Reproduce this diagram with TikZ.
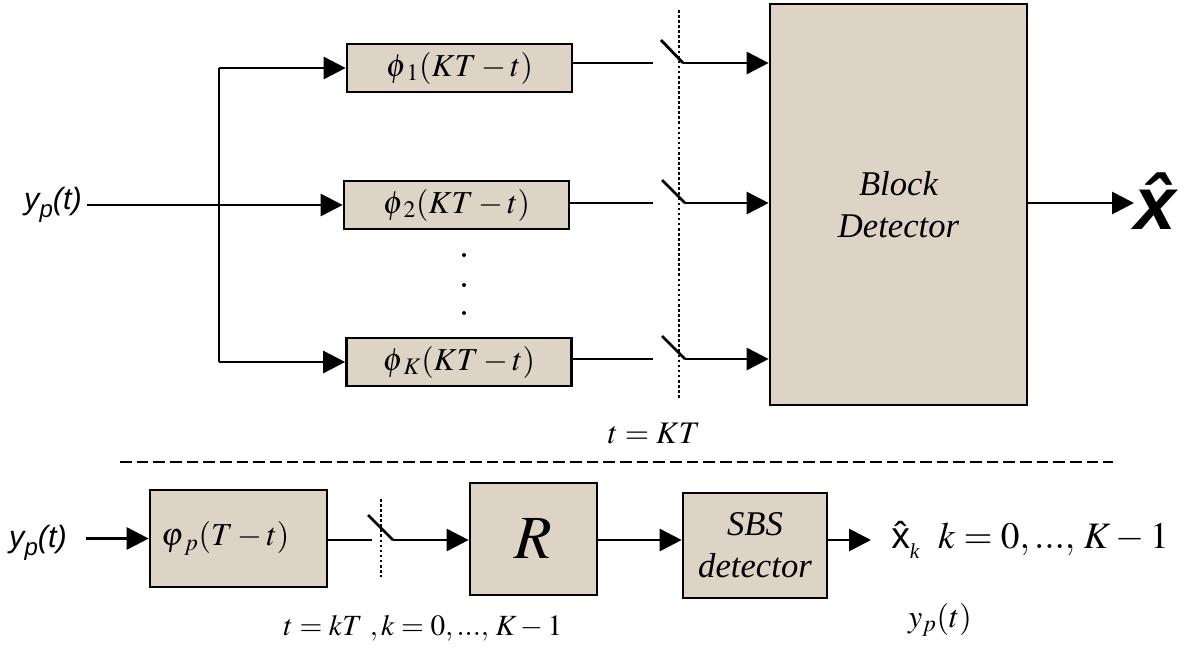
\documentclass[tikz,border=0pt]{standalone}
\usepackage{mathptmx}
\usepackage[no-math]{fontspec}
\setmainfont{Liberation Serif}
\newfontfamily\arialf{Liberation Sans}
\usetikzlibrary{arrows.meta}

\definecolor{paper}{RGB}{221,212,198}

\tikzset{
  box/.style={draw=black, line width=2pt, fill=paper, inner sep=0pt},
  wire/.style={line width=2.1pt},
  arr/.style={wire, -{Triangle[length=16.5pt,width=16.5pt]}},
  clockline/.style={line width=1.6pt, dash pattern=on 2pt off 1.8pt},
  sepline/.style={line width=2pt, dash pattern=on 8.8pt off 3.7pt},
  lbl/.style={inner sep=0pt},
}

\begin{document}
\begin{tikzpicture}[x=0.75pt,y=-0.75pt]
\useasboundingbox (0,0) rectangle (1191,653);

% ---------- block (joint) receiver ----------
\node[lbl, font=\arialf\itshape\fontsize{23}{26}\selectfont] (yin) at (53,205)
  {y\raisebox{-0.45ex}{\fontsize{18}{18}\selectfont p}(t)};

\node[box, minimum width=168.75pt, minimum height=36pt, font=\fontsize{24}{28}\selectfont] (b1) at (459.5,68) {$\phi_{\kern3pt 1}(KT-t)$};
\node[box, minimum width=168.75pt, minimum height=36pt, font=\fontsize{24}{28}\selectfont] (b2) at (456.5,205) {$\phi_{\kern3pt 2}(KT-t)$};
\node[box, minimum width=168.75pt, minimum height=36pt, font=\fontsize{24}{28}\selectfont] (bK) at (459,362) {$\phi_{\kern3pt K}(KT-t)$};

\fill (464,255) circle (1.5pt) (464,285) circle (1.5pt) (464,313) circle (1.5pt);

\node[box, minimum width=192.75pt, minimum height=300.75pt, align=center,
      font=\itshape\fontsize{26}{31.5}\selectfont] (blk) at (898.5,204.5) {Block\\Detector};

% fan-out of the received signal
\coordinate (bt) at (219,68);
\coordinate (bb) at (219,362);
\draw[arr] ([xshift=4pt]yin.east) -- (b2.west);
\draw[wire] (bt) -- (bb);
\draw[arr] (bt) -- (b1.west);
\draw[arr] (bb) -- (bK.west);

% samplers at t = KT
\coordinate (s1a) at (653,63);  \coordinate (s1b) at (661,40);  \coordinate (s1c) at (683,63);
\coordinate (s2a) at (653,203); \coordinate (s2b) at (662,180); \coordinate (s2c) at (685,203);
\coordinate (s3a) at (653,359); \coordinate (s3b) at (662,336); \coordinate (s3c) at (685,359);

\draw[wire] (b1.east |- s1a) -- (s1a);
\draw[wire] (b2.east |- s2a) -- (s2a);
\draw[wire] (bK.east |- s3a) -- (s3a);
\draw[wire] (s1b) -- (s1c);
\draw[wire] (s2b) -- (s2c);
\draw[wire] (s3b) -- (s3c);
\draw[arr] (s1c) -- (blk.west |- s1c);
\draw[arr] (s2c) -- (blk.west |- s2c);
\draw[arr] (s3c) -- (blk.west |- s3c);

\coordinate (d1t) at (679,10);
\coordinate (d1b) at (679,398);
\draw[clockline] (d1t) -- (d1b);

\node[lbl, font=\fontsize{23.5}{28}\selectfont] (tKT) at (654,433) {$t=KT$};

\node[lbl, anchor=west, font=\arialf\bfseries\itshape\fontsize{56}{60}\selectfont] (xhat) at (1134,201) {\^{x}};
\draw[arr] (blk.east |- s2c) -- (xhat.west |- s2c);

% separator
\coordinate (sepL) at (120,462);
\coordinate (sepR) at (1113,462);
\draw[sepline] (sepL) -- (sepR);

% ---------- symbol-by-symbol receiver ----------
\node[lbl, font=\arialf\itshape\fontsize{23}{26}\selectfont] (ybot) at (38,543)
  {y\raisebox{-0.45ex}{\fontsize{18}{18}\selectfont p}(t)};

\node[box, minimum width=132.75pt, minimum height=72.75pt, font=\fontsize{24}{28}\selectfont] (pp) at (238.5,538.5)
  {$\varphi_{\kern3pt p}(T-t)$\hspace*{20pt}};
\node[box, minimum width=95.25pt, minimum height=84pt, font=\fontsize{46}{50}\selectfont] (R) at (533.5,539) {$R$};
\node[box, minimum width=108pt, minimum height=78.75pt, align=center,
      font=\itshape\fontsize{26}{31.5}\selectfont] (sbs) at (755,545.5) {SBS\\detector};

\coordinate (s4a) at (372,540); \coordinate (s4b) at (368,515); \coordinate (s4c) at (393,540);
\coordinate (d2t) at (381,499); \coordinate (d2b) at (381,577);

\draw[arr] ([xshift=14pt]ybot.east |- pp.west) -- (pp.west);
\draw[wire] (pp.east |- s4a) -- (s4a);
\draw[wire] (s4b) -- (s4c);
\draw[clockline] (d2t) -- (d2b);
\draw[arr] (s4c) -- (R.west |- s4c);
\draw[arr] (R.east |- s4c) -- (sbs.west |- s4c);

\node[lbl, anchor=west, font=\fontsize{28}{32}\selectfont] (out) at (891,540)
  {{\arialf\^{x}}\raisebox{-0.55ex}{\fontsize{16}{16}\selectfont\itshape k}\ \ $k=0,...,\,K-1$};
\draw[arr] (sbs.east |- s4c) -- ([xshift=-15pt]out.west |- s4c);

\node[lbl, font=\fontsize{22}{26}\selectfont] (tkT) at (423,628) {$t=kT\ ,k=0,...,\,K-1$};
\node[lbl, font=\fontsize{24}{28}\selectfont] (ypt) at (940,620) {$y_p(t)$};
\end{tikzpicture}
\end{document}
